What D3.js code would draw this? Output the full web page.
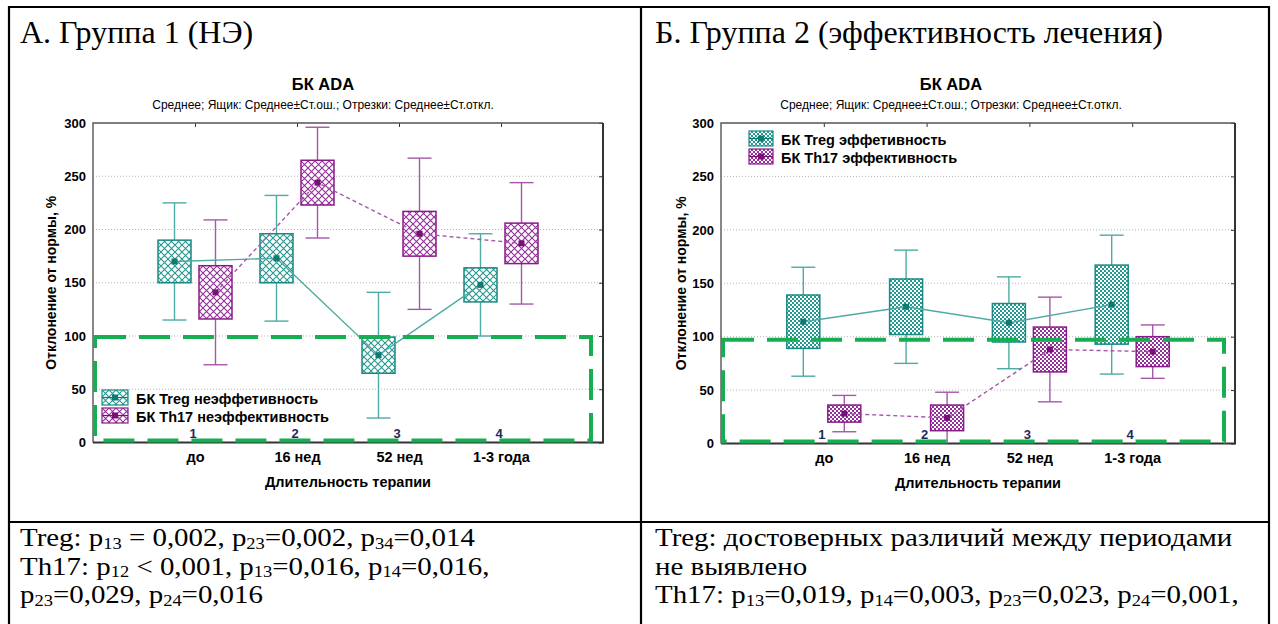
<!DOCTYPE html>
<html>
<head>
<meta charset="utf-8">
<script src="https://cdn.jsdelivr.net/npm/d3@7"></script>
<style>
  body { margin: 0; background: #fff; }
  svg { display: block; }
</style>
</head>
<body>
<svg id="chart" width="1278" height="624"></svg>
<script>
// ---- data ----
const categories = ["до", "16 нед", "52 нед", "1-3 года"];
const periodNumbers = ["1", "2", "3", "4"];
const yTicks = [0, 50, 100, 150, 200, 250, 300];

// Group 1 (non-effective treatment)
const g1TregMean = [170, 173, 82, 148];
const g1TregSE   = [20, 23, 17, 16];
const g1TregSD   = [55, 59, 59, 48];
const g1Th17Mean = [141, 244, 196, 187];
const g1Th17SE   = [25, 21, 21, 19];
const g1Th17SD   = [68, 52, 71, 57];

// Group 2 (effective treatment)
const g2TregMean = [114, 128, 113, 130];
const g2TregSE   = [25, 26, 18, 37];
const g2TregSD   = [51, 53, 43, 65];
const g2Th17Mean = [28, 24, 88, 86];
const g2Th17SE   = [8, 12, 21, 14];
const g2Th17SD   = [17, 24, 49, 25];

const normRange = [0, 100];

const headingLeft  = "А. Группа 1 (НЭ)";
const headingRight = "Б. Группа 2 (эффективность лечения)";
const chartTitle = "БК ADA";
const chartSubtitle = "Среднее; Ящик: Среднее±Ст.ош.; Отрезки: Среднее±Ст.откл.";
const yTitle = "Отклонение от нормы, %";
const xTitle = "Длительность терапии";
const legendLeft  = ["БК Treg неэффетивность", "БК Th17 неэффективность"];
const legendRight = ["БК Treg эффетивность", "БК Th17 эффективность"];

const notesLeft = [
  "Treg: p_{13} = 0,002, p_{23}=0,002, p_{34}=0,014",
  "Th17: p_{12} < 0,001, p_{13}=0,016, p_{14}=0,016,",
  "p_{23}=0,029, p_{24}=0,016"
];
const notesRight = [
  "Treg: достоверных различий между периодами",
  "не выявлено",
  "Th17: p_{13}=0,019, p_{14}=0,003, p_{23}=0,023, p_{24}=0,001,"
];

// ---- styles ----
const SANS = "'Liberation Sans', Arial, sans-serif";
const SERIF = "'Liberation Serif', 'Times New Roman', serif";
const TEAL = { stroke: "#178a83", fill: "#259890", whisker: "#4eaaa4", mark: "#0d7a73" };
const PURP = { stroke: "#8a1a8a", fill: "#93309a", whisker: "#a458a8", mark: "#7a0f7a" };
const GREEN = "#17ad52";

const svg = d3.select("#chart");
const defs = svg.append("defs");

function crossPattern(id, color) {
  const s = 7;
  const p = defs.append("pattern").attr("id", id)
    .attr("patternUnits", "userSpaceOnUse").attr("width", s).attr("height", s);
  p.append("rect").attr("width", s).attr("height", s).attr("fill", "#fff");
  p.append("path").attr("d", `M-1,-1L${s+1},${s+1}M${s+1},-1L-1,${s+1}`)
    .attr("stroke", color).attr("stroke-width", 1.1).attr("fill", "none");
}
function checkerPattern(id, color) {
  const p = defs.append("pattern").attr("id", id)
    .attr("patternUnits", "userSpaceOnUse").attr("width", 4).attr("height", 4);
  p.append("rect").attr("width", 4).attr("height", 4).attr("fill", color);
  p.append("rect").attr("x", 0).attr("y", 0).attr("width", 2).attr("height", 2).attr("fill", "#fff");
  p.append("rect").attr("x", 2).attr("y", 2).attr("width", 2).attr("height", 2).attr("fill", "#fff");
}
crossPattern("crossTeal", TEAL.fill);
crossPattern("crossPurp", PURP.fill);
checkerPattern("checkTeal", TEAL.fill);
checkerPattern("checkPurp", PURP.fill);

// ---- table frame ----
const frame = svg.append("g").attr("stroke", "#000").attr("stroke-width", 2.2).attr("fill", "none");
frame.append("line").attr("x1", 8).attr("x2", 1270).attr("y1", 7).attr("y2", 7);
frame.append("line").attr("x1", 9).attr("x2", 9).attr("y1", 6).attr("y2", 624);
frame.append("line").attr("x1", 641).attr("x2", 641).attr("y1", 6).attr("y2", 624);
frame.append("line").attr("x1", 1269).attr("x2", 1269).attr("y1", 6).attr("y2", 624);
frame.append("line").attr("x1", 8).attr("x2", 1270).attr("y1", 522).attr("y2", 522);

// text with p_{ij} subscripts, slightly widened serif face
function richText(g, str, x, y, size) {
  const t = g.append("text").attr("transform", `translate(${x},${y}) scale(1.18,1)`)
    .attr("font-family", SERIF).attr("font-size", size).attr("fill", "#000");
  const parts = str.split(/_\{(\d+)\}/);
  parts.forEach((part, i) => {
    if (i % 2 === 0) {
      if (part) t.append("tspan").text(part).attr("dy", i > 0 ? -2.5 : 0);
    } else {
      t.append("tspan").text(part).attr("font-size", size * 0.64).attr("dy", 2.5);
    }
  });
}

function drawPanel(cfg) {
  const g = svg.append("g");
  const x = d3.scalePoint().domain(categories).range([cfg.x0, cfg.x1]).padding(1);
  const y = d3.scaleLinear().domain([0, 300]).range([cfg.yb, cfg.yt]);
  const cx = (cfg.x0 + cfg.x1) / 2;

  // heading
  g.append("text").attr("x", cfg.hx).attr("y", 43)
    .attr("font-family", SERIF).attr("font-size", 32).text(cfg.heading);

  // chart titles
  g.append("text").attr("x", cfg.tx).attr("y", 90).attr("text-anchor", "middle")
    .attr("font-family", SANS).attr("font-weight", "bold").attr("font-size", 16.5).text(chartTitle);
  g.append("text").attr("x", cfg.tx).attr("y", 108.5).attr("text-anchor", "middle")
    .attr("font-family", SANS).attr("font-size", 12).text(chartSubtitle);

  // grid lines
  g.append("g").selectAll("line").data(yTicks.filter(v => v > 0 && v < 300)).join("line")
    .attr("x1", cfg.x0).attr("x2", cfg.x1).attr("y1", d => y(d)).attr("y2", d => y(d))
    .attr("stroke", "#b5b5b5").attr("stroke-width", 1).attr("stroke-dasharray", "1,2");

  // y axis labels
  const ya = g.append("g").attr("transform", `translate(${cfg.x0},0)`)
    .call(d3.axisLeft(y).tickValues(yTicks).tickSize(0).tickPadding(7));
  ya.select(".domain").remove();
  ya.selectAll("text").attr("font-family", SANS).attr("font-weight", "bold")
    .attr("font-size", 13).attr("fill", "#000");

  // inner ticks on right and top edges
  const yr = g.append("g").attr("transform", `translate(${cfg.x1},0)`)
    .call(d3.axisLeft(y).tickValues(yTicks).tickSize(4).tickFormat(""));
  yr.select(".domain").remove();
  yr.selectAll("line").attr("stroke", "#333");
  const xt = g.append("g").attr("transform", `translate(0,${cfg.yt})`)
    .call(d3.axisBottom(x).tickSize(4).tickFormat(""));
  xt.select(".domain").remove();
  xt.selectAll("line").attr("stroke", "#333");

  // x axis labels
  const xa = g.append("g").attr("transform", `translate(0,${cfg.yb})`)
    .call(d3.axisBottom(x).tickSize(0).tickPadding(9));
  xa.select(".domain").remove();
  xa.selectAll("text").attr("font-family", SANS).attr("font-weight", "bold")
    .attr("font-size", 14.5).attr("fill", "#000");

  // axis titles
  g.append("text").attr("transform", `translate(${cfg.ytx},${(cfg.yt + cfg.yb) / 2}) rotate(-90)`)
    .attr("text-anchor", "middle").attr("font-family", SANS).attr("font-weight", "bold")
    .attr("font-size", 14).text(yTitle);
  g.append("text").attr("x", cx).attr("y", cfg.yb + 44).attr("text-anchor", "middle")
    .attr("font-family", SANS).attr("font-weight", "bold").attr("font-size", 14.5).text(xTitle);

  // plot frame
  g.append("path").attr("d", `M${cfg.x0},${cfg.yb}V${cfg.yt}H${cfg.x1}`)
    .attr("fill", "none").attr("stroke", "#555").attr("stroke-width", 1.4);
  g.append("path").attr("d", `M${cfg.x1},${cfg.yt}V${cfg.yb}H${cfg.x0}`)
    .attr("fill", "none").attr("stroke", "#333").attr("stroke-width", 2);

  // box series
  const bw = 33, cap = 24, off = 20.5;
  const series = [
    { mean: cfg.tregMean, se: cfg.tregSE, sd: cfg.tregSD, c: TEAL, pat: cfg.patTeal, dx: -off, dash: null },
    { mean: cfg.th17Mean, se: cfg.th17SE, sd: cfg.th17SD, c: PURP, pat: cfg.patPurp, dx: off, dash: "4,3" }
  ];
  const clampY = v => y(Math.max(0, Math.min(300, v)));

  series.forEach(s => {
    const pts = categories.map((c, i) => ({ xc: x(c) + s.dx, m: s.mean[i], se: s.se[i], sd: s.sd[i] }));
    const sg = g.append("g");
    // whiskers
    sg.selectAll(".wv").data(pts).join("line")
      .attr("x1", d => d.xc).attr("x2", d => d.xc)
      .attr("y1", d => clampY(d.m + d.sd)).attr("y2", d => clampY(d.m - d.sd))
      .attr("stroke", s.c.whisker).attr("stroke-width", 1.4);
    sg.selectAll(".wt").data(pts).join("line")
      .attr("x1", d => d.xc - cap / 2).attr("x2", d => d.xc + cap / 2)
      .attr("y1", d => clampY(d.m + d.sd)).attr("y2", d => clampY(d.m + d.sd))
      .attr("stroke", s.c.whisker).attr("stroke-width", 1.4);
    sg.selectAll(".wb").data(pts.filter(d => d.m - d.sd > 0)).join("line")
      .attr("x1", d => d.xc - cap / 2).attr("x2", d => d.xc + cap / 2)
      .attr("y1", d => y(d.m - d.sd)).attr("y2", d => y(d.m - d.sd))
      .attr("stroke", s.c.whisker).attr("stroke-width", 1.4);
    // boxes
    sg.selectAll("rect").data(pts).join("rect")
      .attr("x", d => d.xc - bw / 2).attr("width", bw)
      .attr("y", d => y(d.m + d.se)).attr("height", d => y(d.m - d.se) - y(d.m + d.se))
      .attr("fill", `url(#${s.pat})`).attr("stroke", s.c.stroke).attr("stroke-width", 1.5);
    s.pts = pts;
  });
  series.forEach(s => {
    g.append("path").datum(s.pts)
      .attr("d", d3.line().x(d => d.xc).y(d => y(d.m)))
      .attr("fill", "none").attr("stroke", s.c.whisker).attr("stroke-width", 1.4)
      .attr("stroke-dasharray", s.dash);
    g.append("g").selectAll("rect").data(s.pts).join("rect")
      .attr("x", d => d.xc - 3).attr("y", d => y(d.m) - 3).attr("width", 6).attr("height", 6)
      .attr("fill", s.c.mark);
  });

  // reference band (normal range)
  g.append("rect")
    .attr("x", cfg.x0 + 2).attr("width", cfg.x1 - cfg.x0 - cfg.bandInset)
    .attr("y", y(normRange[1] - cfg.bandDrop)).attr("height", y(normRange[0]) - y(normRange[1] - cfg.bandDrop) - 2)
    .attr("fill", "none").attr("stroke", GREEN).attr("stroke-width", 4).attr("stroke-dasharray", "31,13");

  // period numbers
  g.append("g").selectAll("text").data(categories).join("text")
    .attr("x", d => x(d) - 2).attr("y", cfg.yb - 5).attr("text-anchor", "middle")
    .attr("font-family", SANS).attr("font-weight", "bold").attr("font-size", 13)
    .attr("fill", "#1c2b5c").text((d, i) => periodNumbers[i]);

  // legend
  const lg = g.append("g").attr("transform", `translate(${cfg.lx},${cfg.ly})`);
  cfg.legend.forEach((label, i) => {
    const s = series[i];
    const row = lg.append("g").attr("transform", `translate(0,${i * 18})`);
    row.append("rect").attr("x", 0).attr("y", 0).attr("width", cfg.lw).attr("height", 15)
      .attr("fill", `url(#${s.pat})`).attr("stroke", s.c.stroke).attr("stroke-width", 1.2);
    row.append("line").attr("x1", 0).attr("x2", cfg.lw).attr("y1", 7.5).attr("y2", 7.5)
      .attr("stroke", s.c.mark).attr("stroke-width", 1.2);
    row.append("rect").attr("x", cfg.lw / 2 - 3).attr("y", 4.5).attr("width", 6).attr("height", 6)
      .attr("fill", s.c.mark);
    row.append("text").attr("x", cfg.lw + 8).attr("y", 13.5)
      .attr("font-family", SANS).attr("font-weight", "bold").attr("font-size", 14.5)
      .attr("fill", "#000").text(label);
  });

  // notes below the chart
  cfg.notes.forEach((line, i) => richText(g, line, cfg.hx, 546 + i * 28.5, 24.5));
}

drawPanel({
  heading: headingLeft, hx: 20, tx: 323,
  x0: 93, x1: 603, yt: 123, yb: 442.5, ytx: 56,
  tregMean: g1TregMean, tregSE: g1TregSE, tregSD: g1TregSD,
  th17Mean: g1Th17Mean, th17SE: g1Th17SE, th17SD: g1Th17SD,
  patTeal: "crossTeal", patPurp: "crossPurp",
  bandInset: 14, bandDrop: 1,
  legend: legendLeft, lx: 102, ly: 390, lw: 26,
  notes: notesLeft
});
drawPanel({
  heading: headingRight, hx: 655, tx: 951,
  x0: 721, x1: 1235, yt: 123, yb: 443.5, ytx: 686,
  tregMean: g2TregMean, tregSE: g2TregSE, tregSD: g2TregSD,
  th17Mean: g2Th17Mean, th17SE: g2Th17SE, th17SD: g2Th17SD,
  patTeal: "checkTeal", patPurp: "checkPurp",
  bandInset: 13, bandDrop: 3,
  legend: legendRight, lx: 749, ly: 131, lw: 24,
  notes: notesRight
});
</script>
</body>
</html>
